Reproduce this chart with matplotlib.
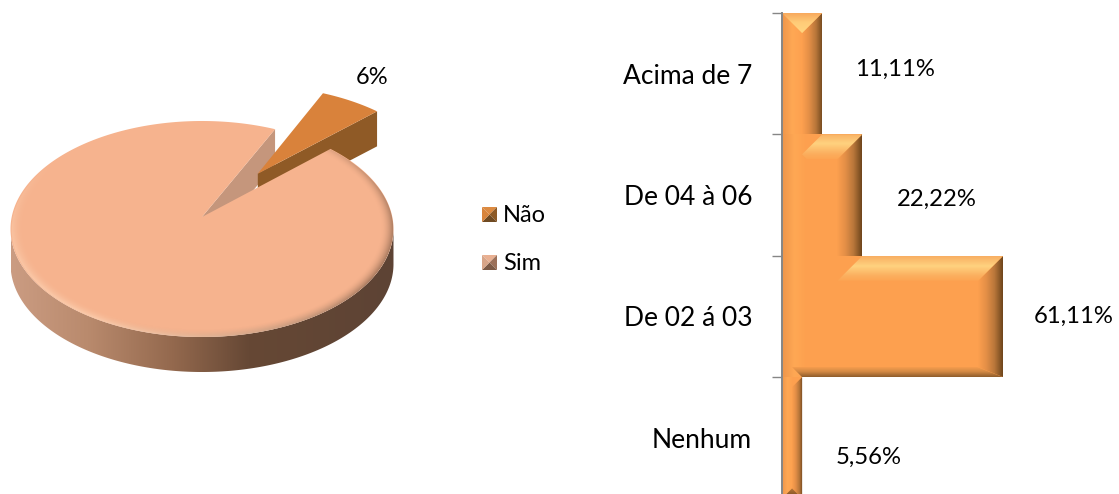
import numpy as np
import matplotlib as mpl
import matplotlib.pyplot as plt
from matplotlib.colors import LinearSegmentedColormap, to_rgb
from matplotlib.patches import Polygon


plt.switch_backend('Agg')

pie_labels = ['Não', 'Sim']
pie_values = [6, 94]
pie_texts = ['6%', '94%']

bar_labels = ['Nenhum', 'De 02 á 03', 'De 04 à 06', 'Acima de 7']
bar_values = [5.56, 61.11, 22.22, 11.11]
bar_texts = ['5,56%', '61,11%', '22,22%', '11,11%']

WIDTH, HEIGHT = 1119, 494
BAR_BASE = '#FDA04F'
BAR_TOP = '#FFD27F'
BAR_DARK = '#6E451C'

mpl.rcParams['font.family'] = ['Lato', 'DejaVu Sans']

# pie projection: unit circle seen in perspective, centre lands on the apex
APEX_X, APEX_Y = 202, 217
PIE_A, PIE_B, PIE_K = 190.3, 106.67, 1 / 9
PIE_DEPTH = 35
FIRST_ANGLE = 25
EXPLODE = 0.525


def project(x, y):
    w = 1 + PIE_K * y
    return APEX_X + PIE_A * x / w, APEX_Y - PIE_B * y / w


def rim_points(start, stop, shift=(0, 0), n=120):
    angles = np.radians(np.linspace(start, stop, n))
    return np.sin(angles) + shift[0], np.cos(angles) + shift[1]


def screen(x, y):
    sx, sy = project(np.asarray(x), np.asarray(y))
    return np.column_stack([sx, sy])


def gradient_fill(axes, points, colors, vertical=False, zorder=2):
    """
    Fill a polygon with a linear gradient
    :param axes: target axes
    :param points: polygon vertices
    :param colors: gradient stops, left to right or top to bottom
    :param vertical: run the gradient along y
    :param zorder: drawing order
    :return: None
    """
    points = np.asarray(points)
    x_min, y_min = points.min(axis=0)
    x_max, y_max = points.max(axis=0)
    ramp = np.linspace(0, 1, 256)
    ramp = ramp[:, None] if vertical else ramp[None, :]
    cmap = LinearSegmentedColormap.from_list('fill', colors)
    inverted = axes.yaxis_inverted()
    top, bottom = (y_min, y_max) if inverted else (y_max, y_min)
    image = axes.imshow(ramp, cmap=cmap, aspect='auto', origin='upper',
                        extent=(x_min, x_max, bottom, top),
                        interpolation='bilinear', zorder=zorder)
    image.set_clip_path(Polygon(points, closed=True, transform=axes.transData))


def draw_pie(axes):
    total = sum(pie_values)
    sweep = 360 * pie_values[0] / total
    start = FIRST_ANGLE
    stop = FIRST_ANGLE + sweep
    middle = np.radians((start + stop) / 2)
    shift = (EXPLODE * np.sin(middle), EXPLODE * np.cos(middle))
    drop = np.array([0, PIE_DEPTH])

    # outer wall of the big slice
    full = screen(*rim_points(0, 360, n=720))
    front = full[full[:, 1] >= 229]
    front = front[np.argsort(front[:, 0])]
    band = np.vstack([front, (front + drop)[::-1]])
    gradient_fill(axes, band,
                  [(0, '#CB9C82'), (0.2, '#B98A6D'), (0.42, '#94694E'),
                   (0.62, '#664835'), (1, '#5D4334')], zorder=1)

    # cut face seen through the gap
    rim_start = screen(*rim_points(start, start, n=1))[0]
    centre = np.array([APEX_X, APEX_Y], dtype=float)
    axes.add_patch(Polygon([centre, rim_start, rim_start + drop, centre + drop],
                           fc='#C5967C', ec='none', zorder=2))

    # small slice, pulled out along its bisector
    tip = screen([shift[0]], [shift[1]])[0]
    small_rim = screen(*rim_points(start, stop, shift))
    axes.add_patch(Polygon([tip, small_rim[-1], small_rim[-1] + drop, tip + drop],
                           fc='#8F5A26', ec='none', zorder=3))
    axes.add_patch(Polygon(np.vstack([tip, small_rim]),
                           fc='#D9823B', ec='none', zorder=4))

    # big slice top face
    big_rim = screen(*rim_points(stop, start + 360, n=720))
    big_face = Polygon(np.vstack([centre, big_rim]),
                       fc='#F6B38E', ec='none', zorder=5)
    axes.add_patch(big_face)

    # soft bevel along the rim
    x_grid, y_grid = np.meshgrid(np.arange(0, 400.0), np.arange(110, 350.0))
    rel_x = x_grid - APEX_X
    rel_y = APEX_Y - y_grid
    unit_y = rel_y / (PIE_B - PIE_K * rel_y)
    unit_x = rel_x * (1 + PIE_K * unit_y) / PIE_A
    radius = np.hypot(unit_x, unit_y)
    edge = np.clip((radius - 0.93) / 0.07, 0, 1) ** 2
    inside = np.clip((1 - radius) * 150, 0, 1)
    safe = np.maximum(radius, 1e-6)
    dark = np.clip((unit_x * 0.85 - unit_y * 0.5) / safe, 0, 1) * edge * 0.75
    light = np.clip((-unit_x * 0.55 - unit_y * 0.85) / safe, 0, 1) * edge * 0.6
    for color, amount in ((to_rgb('#7A5843'), dark), (to_rgb('#FFE0C4'), light)):
        overlay = np.zeros(x_grid.shape + (4,))
        overlay[..., :3] = color
        overlay[..., 3] = amount * inside
        image = axes.imshow(overlay, extent=(0, 400, 350, 110), aspect='auto',
                            interpolation='bilinear', zorder=6)
        image.set_clip_path(big_face)


def draw_legend_key(axes, left, top, size, colors):
    right, bottom = left + size, top + size
    mid = (left + right) / 2, (top + bottom) / 2
    corners = [(left, top), (right, top), (right, bottom), (left, bottom)]
    # colors go top, right, bottom, left
    for i, color in enumerate(colors):
        axes.add_patch(Polygon([corners[i], corners[(i + 1) % 4], mid],
                               fc=color, ec='none'))


def draw_bars(axes, x_scale, y_scale):
    y_pos = np.arange(len(bar_values)) + 0.5
    axes.barh(y_pos, bar_values, height=1, color=BAR_BASE, zorder=2)

    lip = 10 / y_scale
    count = len(bar_values)
    for i, value in enumerate(bar_values):
        low, high = i, i + 1
        above = bar_values[i + 1] if i + 1 < count else 0
        below = bar_values[i - 1] if i > 0 else 0
        bevel = min(25, value * x_scale / 2)
        dx = bevel / x_scale
        dy = bevel / y_scale

        # lighter strip down the left side
        gradient_fill(axes, [(0, low), (dx, low), (dx, high), (0, high)],
                      ['#EE954A', '#FFA854', BAR_BASE], zorder=2.5)

        # dark bevel on the right, mitred only at free corners
        inner_top = high - dy if above < value else high - lip
        if below >= value:
            inner_low = low
        elif below:
            inner_low = low + lip
        else:
            inner_low = low + dy
        gradient_fill(axes, [(value, high), (value, low),
                             (value - dx, inner_low), (value - dx, inner_top)],
                      [BAR_BASE, '#E48F47', '#B8763A', BAR_DARK], zorder=3)

        # highlight on top, starting where the bar above ends
        if above >= value:
            continue
        if not above:
            gradient_fill(axes, [(0, high), (value, high),
                                 (value - dx, high - dy)],
                          ['#F7A55A', '#FFCC78', '#FFD680'], vertical=True,
                          zorder=4)
            continue
        left_edge = above - dx
        floor = 20 / x_scale
        top_pts = [(above, high), (value, high), (value - dx, high - dy)]
        if left_edge < floor:
            # runs into the lit strip of the bar above
            top_pts += [(floor + 5 / x_scale, high - dy),
                        (floor, high - dy + 5 / y_scale)]
        else:
            top_pts += [(left_edge, high - dy)]
        gradient_fill(axes, top_pts,
                      [(0, '#F8AE62'), (0.4, BAR_TOP), (0.8, '#FBAE5E'),
                       (1, '#FDA552')], vertical=True, zorder=4)

    # bottom bevels: a short lip on the wide bar, a point on the lowest one
    wide = bar_values[1]
    narrow = bar_values[0]
    gradient_fill(axes, [(narrow, 1), (wide, 1),
                         (wide - 26 / x_scale, 1 + lip),
                         (narrow / 2, 1 + lip)],
                  [BAR_BASE, '#D48A45', '#8E5C2B'], vertical=True, zorder=4)
    gradient_fill(axes, [(0, 0), (narrow, 0),
                         (narrow / 2, narrow / 2 * x_scale / y_scale)],
                  ['#B8763A', BAR_DARK], vertical=True, zorder=4)


def main():
    fig = plt.figure()
    fig.set_size_inches(WIDTH / 100, HEIGHT / 100)
    fig.dpi = 100

    # pixel canvas holding the pie and its legend
    canvas = fig.add_axes([0, 0, 1, 1])
    draw_pie(canvas)
    draw_legend_key(canvas, 482, 207, 15,
                    ['#DC8A41', '#8D5A27', '#6F4A22', '#D8843B'])
    draw_legend_key(canvas, 482, 255, 15,
                    ['#E9B092', '#9B7059', '#7C5A46', '#D8A588'])
    canvas.set_xlim(0, WIDTH)
    canvas.set_ylim(HEIGHT, 0)
    canvas.axis('off')

    canvas.text(372, 78, pie_texts[0], fontsize=17, ha='center', va='center')
    canvas.text(113, 287, pie_texts[1], fontsize=17, ha='center', va='center')
    canvas.text(503, 215, pie_labels[0], fontsize=17, ha='left', va='center')
    canvas.text(503, 263, pie_labels[1], fontsize=17, ha='left', va='center')

    # bar axes run slightly past the bottom of the figure
    axis_left, axis_top, axis_bottom = 782, 13, 498.5
    x_scale = 3.62
    y_scale = (axis_bottom - axis_top) / len(bar_values)
    axes = fig.add_axes([axis_left / WIDTH, (HEIGHT - axis_bottom) / HEIGHT,
                         (WIDTH - axis_left) / WIDTH,
                         (axis_bottom - axis_top) / HEIGHT])
    axes.patch.set_alpha(0)
    axes.set_axisbelow(False)
    draw_bars(axes, x_scale, y_scale)
    axes.set_xlim(0, (WIDTH - axis_left) / x_scale)
    axes.set_ylim(0, len(bar_values))

    for side in ('top', 'right', 'bottom'):
        axes.spines[side].set_visible(False)
    axes.spines['left'].set_color('#868686')
    axes.spines['left'].set_linewidth(1.4)
    axes.spines['left'].set_zorder(6)
    axes.set_xticks([])
    axes.set_yticks(np.arange(len(bar_values)) + 0.5)
    axes.set_yticks(np.arange(len(bar_values) + 1), minor=True)
    axes.set_yticklabels(bar_labels, fontsize=19)
    axes.tick_params(axis='y', which='major', length=0, pad=21.5)
    axes.tick_params(axis='y', which='minor', length=7.2, width=1,
                     color='#868686')

    text_offsets = [(67, -20), (70, 0), (74, -4), (73, 4)]
    for i, (value, text) in enumerate(zip(bar_values, bar_texts)):
        dx, dy = text_offsets[i]
        axes.annotate(text, xy=(value, i + 0.5),
                      xytext=(dx * 0.72, dy * 0.72),
                      textcoords='offset points', fontsize=17.2,
                      ha='center', va='center', annotation_clip=False)

    plt.savefig('out.png', dpi=100)
    plt.close(fig)


main()
